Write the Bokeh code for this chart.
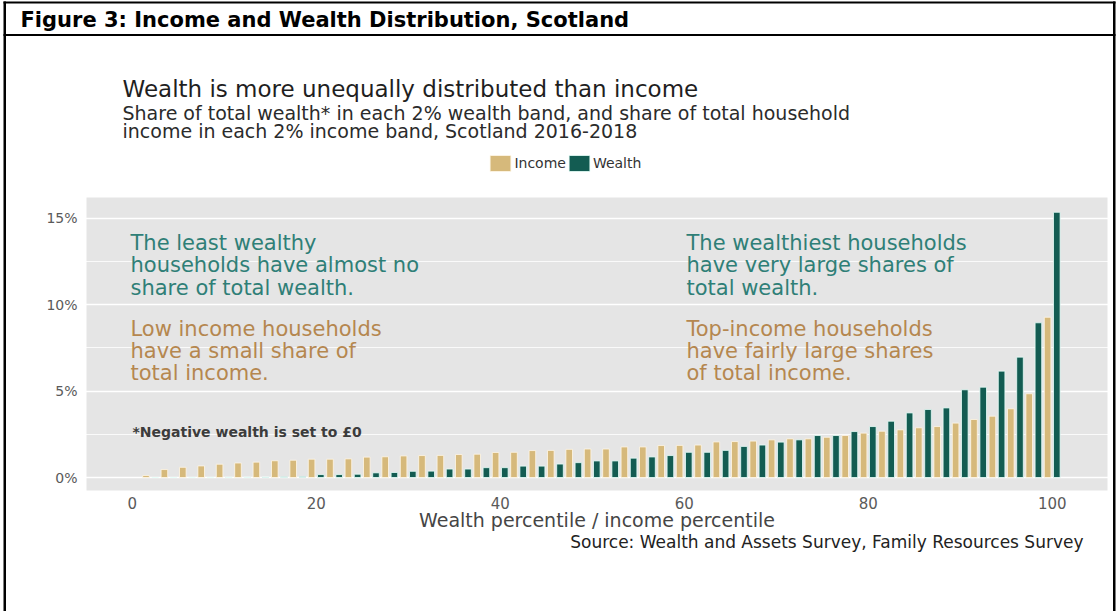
from bokeh.plotting import figure
from bokeh.models import (ColumnDataSource, Range1d, FixedTicker, PrintfTickFormatter,
                          Label, Legend, LegendItem, BoxAnnotation)
from bokeh.transform import dodge
from bokeh.embed import file_html
from bokeh.resources import INLINE

# ---------------- data ----------------
bands = list(range(2, 101, 2))  # 2% bands, upper bound of each band
income = [0.12, 0.46, 0.59, 0.67, 0.77, 0.84, 0.89, 0.97, 1.00, 1.06,
          1.06, 1.08, 1.18, 1.20, 1.25, 1.27, 1.28, 1.33, 1.35, 1.45,
          1.46, 1.56, 1.57, 1.63, 1.65, 1.65, 1.77, 1.77, 1.85, 1.86,
          1.88, 2.06, 2.08, 2.11, 2.18, 2.24, 2.24, 2.33, 2.43, 2.57,
          2.68, 2.76, 2.88, 2.95, 3.15, 3.36, 3.55, 3.98, 4.85, 9.28]
wealth = [0.00, 0.00, 0.00, 0.00, 0.01, 0.02, 0.03, 0.04, 0.06, 0.17,
          0.17, 0.19, 0.27, 0.29, 0.36, 0.37, 0.49, 0.49, 0.57, 0.57,
          0.66, 0.66, 0.78, 0.86, 0.96, 0.96, 1.12, 1.19, 1.27, 1.46,
          1.46, 1.57, 1.80, 1.88, 2.05, 2.18, 2.43, 2.43, 2.66, 2.95,
          3.26, 3.74, 3.94, 4.03, 5.08, 5.23, 6.16, 6.97, 8.96, 15.36]
y_ticks = [0, 5, 10, 15]
y_minor = [2.5, 7.5, 12.5]
x_ticks = [0, 20, 40, 60, 80, 100]
series_names = ["Income", "Wealth"]

header_text = "Figure 3: Income and Wealth Distribution, Scotland"
title_text = "Wealth is more unequally distributed than income"
subtitle_lines = ["Share of total wealth* in each 2% wealth band, and share of total household",
                  "income in each 2% income band, Scotland 2016-2018"]
left_wealth_note = ["The least wealthy", "households have almost no", "share of total wealth."]
left_income_note = ["Low income households", "have a small share of", "total income."]
right_wealth_note = ["The wealthiest households", "have very large shares of", "total wealth."]
right_income_note = ["Top-income households", "have fairly large shares", "of total income."]
footnote = "*Negative wealth is set to \u00a30"
x_title = "Wealth percentile / income percentile"
source_text = "Source: Wealth and Assets Survey, Family Resources Survey"

# ---------------- styling ----------------
FONT = "DejaVu Sans"
C_INC = "#D6B97B"
C_WEA = "#135C52"
C_TEAL_TXT = "#2F7F77"
C_TAN_TXT = "#B5874F"
C_PANEL = "#E5E5E5"

W, H = 1116, 611
# panel edges in canvas pixels
PL, PR, PT, PB = 86, 1107, 197, 490
X0PX, XPX = 131.7, 9.2      # canvas px of x=0, px per unit
Y0PX, YPX = 477.0, 17.267   # canvas px of y=0, px per %


def dx(px):
    return (px - X0PX) / XPX


def dy(py):
    return (Y0PX - py) / YPX


p = figure(width=W, height=H, output_backend="svg", toolbar_location=None,
           title=None, x_range=Range1d(dx(0), dx(W)), y_range=Range1d(dy(H), dy(0)),
           min_border=0, min_border_left=0, min_border_right=0,
           min_border_top=0, min_border_bottom=0)
p.background_fill_color = "white"
p.border_fill_color = "white"
p.outline_line_color = None

# grey plotting panel
p.add_layout(BoxAnnotation(left=dx(PL), right=dx(PR), top=dy(PT), bottom=dy(PB),
                           fill_color=C_PANEL, fill_alpha=1, line_alpha=0, level="image"))

src = ColumnDataSource(dict(band=bands, income=income, wealth=wealth))
r_inc = p.vbar(x=dodge("band", -0.5, range=p.x_range), top="income", width=0.72, source=src,
               fill_color=C_INC, line_color="#FFF8E8", line_width=0.8)
r_wea = p.vbar(x=dodge("band", 0.5, range=p.x_range), top="wealth", width=0.72, source=src,
               fill_color=C_WEA, line_color="#E8FFFA", line_width=0.8)

# grid (only inside the panel)
p.xgrid.visible = False
p.ygrid.ticker = FixedTicker(ticks=y_ticks, minor_ticks=y_minor)
p.ygrid.bounds = (dx(PL), dx(PR))
p.ygrid.grid_line_color = "white"
p.ygrid.grid_line_width = 1.6
p.ygrid.minor_grid_line_color = "white"
p.ygrid.minor_grid_line_width = 0.8

# axes fixed on the panel edges
p.yaxis.ticker = FixedTicker(ticks=y_ticks)
p.yaxis.formatter = PrintfTickFormatter(format="%d%%")
p.yaxis.fixed_location = dx(PL)
p.yaxis.bounds = (dy(PB), dy(PT))
p.xaxis.ticker = FixedTicker(ticks=x_ticks)
p.xaxis.fixed_location = dy(PB)
p.xaxis.bounds = (dx(PL), dx(PR))
for ax in (p.xaxis, p.yaxis):
    ax.axis_line_color = None
    ax.major_tick_line_color = None
    ax.minor_tick_line_color = None
    ax.major_label_text_font = FONT
    ax.major_label_text_color = "#5A5A5A"
p.yaxis.major_label_text_font_size = "14px"
p.yaxis.major_label_standoff = 3
p.xaxis.major_label_text_font_size = "15px"
p.xaxis.major_label_standoff = 0
p.xaxis.axis_label = x_title
p.xaxis.axis_label_text_font = FONT
p.xaxis.axis_label_text_font_style = "normal"
p.xaxis.axis_label_text_font_size = "19px"
p.xaxis.axis_label_text_color = "#454545"
p.xaxis.axis_label_standoff = -3

# legend (location measured from the canvas bottom-left)
legend = Legend(items=[LegendItem(label=series_names[0], renderers=[r_inc]),
                       LegendItem(label=series_names[1], renderers=[r_wea])],
                orientation="horizontal", location=(487.4, H - 173),
                glyph_width=26, glyph_height=20, label_height=20, label_width=10,
                label_standoff=1, spacing=0, padding=0, margin=0,
                label_text_font=FONT, label_text_font_size="14px", label_text_color="#333333",
                background_fill_alpha=0, border_line_alpha=0)
p.add_layout(legend)


def add_label(text, px, py, size, color, style="normal", align="left"):
    p.add_layout(Label(x=dx(px), y=dy(py), text=text, text_font=FONT, text_font_size=size,
                       text_font_style=style, text_color=color, text_align=align,
                       text_baseline="middle"))


add_label(header_text, 20, 19, "21px", "black", style="bold")
add_label(title_text, 122, 88, "23px", "#1F1F1F")
for i, line in enumerate(subtitle_lines):
    add_label(line, 122, 112 + 18.5 * i, "19px", "#2B2B2B")

note_rows_top = [242, 264.5, 287]
note_rows_bottom = [328, 350, 372]
for lines, x0, rows, col in [(left_wealth_note, 130, note_rows_top, C_TEAL_TXT),
                             (left_income_note, 130, note_rows_bottom, C_TAN_TXT),
                             (right_wealth_note, 686, note_rows_top, C_TEAL_TXT),
                             (right_income_note, 686, note_rows_bottom, C_TAN_TXT)]:
    for line, yy in zip(lines, rows):
        add_label(line, x0, yy, "21px", col)

add_label(footnote, 132, 431, "14px", "#3C3C3C", style="bold")
add_label(source_text, 1083, 541, "17px", "#222222", align="right")

# document frame lines (black)
for (l, r, t, b) in [(3, 1115, 1, 3), (3, 1115, 33.5, 35.5), (3, 5.5, 1, H), (1112.5, 1115, 1, H)]:
    p.add_layout(BoxAnnotation(left=dx(l), right=dx(r), top=dy(t), bottom=dy(b),
                               fill_color="black", fill_alpha=1, line_alpha=0))

open("out.html", "w").write(file_html(p, INLINE))
